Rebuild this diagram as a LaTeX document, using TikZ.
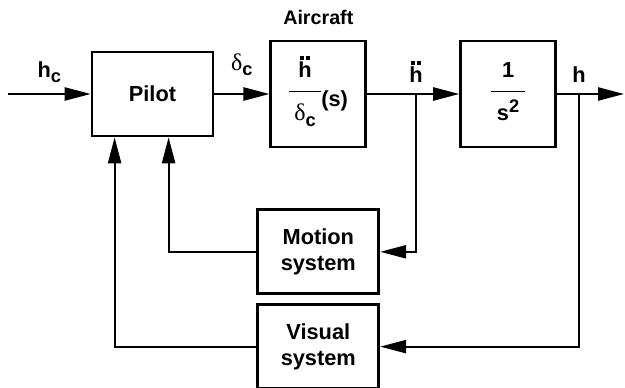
\documentclass[tikz,border=0pt]{standalone}
\usepackage{fontspec}
\setmainfont{Liberation Sans}
\newfontfamily\grkfont{Liberation Serif}
\usetikzlibrary{arrows.meta,positioning}
\newcommand{\blkfrac}[2]{\begin{tabular}{@{\hspace{4pt}}c@{\hspace{4pt}}}#1\\[4pt]\hline\rule{0pt}{21pt}#2\end{tabular}}
\newcommand{\subc}{\raisebox{-0.45ex}{\fontsize{13}{13}\selectfont c}}
\newcommand{\dlt}{{\grkfont\mdseries\fontsize{17}{17}\selectfont δ}}
\newcommand{\hddot}{\ooalign{h\cr\hidewidth\raisebox{12.3pt}{\rule{2.6pt}{2.6pt}\hspace{2pt}\rule{2.6pt}{2.6pt}}\hidewidth\cr}}

\begin{document}
\begin{tikzpicture}[
    blk/.style={draw, line width=2pt, minimum width=3.025cm, minimum height=2.1cm, align=center, inner sep=0pt},
    tf/.style={blk, minimum width=2.375cm, minimum height=2.65cm},
    sig/.style={line width=1.3pt, -{Triangle[length=6.5mm, width=3.3mm]}},
    font=\fontsize{15.5}{18.5}\selectfont\bfseries
  ]
    \useasboundingbox (0,0) rectangle (15.625,-9.675);
    \node[blk] (pilot) at (3.8125,-2.35) {Pilot};
    \node[tf, right=1.375cm of pilot] (ac) {\blkfrac{\hddot}{\dlt\subc}\raisebox{-5pt}{(s)}};
    \node[above=0.25cm of ac, font=\fontsize{14}{16}\selectfont\bfseries] (aclbl) {Aircraft};
    \node[tf, right=2.3cm of ac] (integ) {\blkfrac{1}{s\raisebox{0.7ex}{\fontsize{13}{13}\selectfont 2}}};
    \node[blk, below=1.5cm of ac] (motion) {Motion\\system};
    \node[blk, below=0.2cm of motion] (visual) {Visual\\system};
    \coordinate (in) at (0.2,-2.35);
    \coordinate (hdd) at (10.4,-2.35);
    \coordinate (hb) at (14.475,-2.35);
    \coordinate (out) at (15.6,-2.35);
    \draw[sig] (in) -- node[above=4pt] (hclbl) {h\subc} (pilot);
    \draw[sig] (pilot) -- node[above=9pt] (dclbl) {\dlt\subc} (ac);
    \draw[sig] (ac) -- (integ);
    \node[above=5pt] (hddlbl) at (hdd) {\hddot};
    \draw[sig] (integ) -- (out);
    \node[above=5pt] (hlbl) at (hb) {h};
    \draw[sig] (hdd) |- (motion);
    \draw[sig] (motion.west) -| ([xshift=1.95cm]pilot.south west);
    \draw[sig] (hb) |- (visual);
    \draw[sig] (visual.west) -| ([xshift=0.6cm]pilot.south west);
  \end{tikzpicture}
\end{document}
